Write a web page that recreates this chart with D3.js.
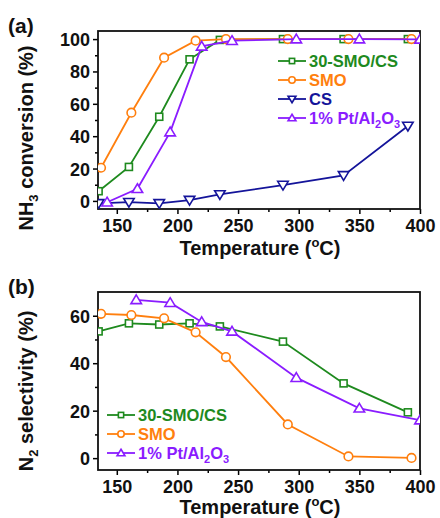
<!DOCTYPE html>
<html><head><meta charset="utf-8">
<script src="https://cdn.jsdelivr.net/npm/d3@7"></script>
<style>body{margin:0;background:#fff}svg{display:block}text{font-family:"Liberation Sans",Arial,sans-serif;font-weight:bold}</style>
</head><body>
<svg id="c" width="440" height="518"></svg>
<script>
// ---- data ----
const convSMOCS_T = [135,160,185,210,235,287,337,390];
const convSMOCS_V = [6,21,52,87.5,99.5,100,100,100];
const convSMO_T = [137,162,189,215,240,291,341,393];
const convSMO_V = [20.5,54.5,88.5,99,100,100,100,100];
const convCS_T = [135,160,185,210,235,287,337,390];
const convCS_V = [-1.5,-0.8,-1.5,0.5,4,9.8,15.8,46.3];
const convPt_T = [142,167,194,220,245,298,350,400];
const convPt_V = [-0.8,7.5,42.5,95.5,99,100,100,99.8];

const selSMOCS_T = [135,160,185,210,235,287,337,390];
const selSMOCS_V = [53.4,56.8,56.3,56.8,55.5,49.1,31.5,19.3];
const selSMO_T = [137,162,189,215,240,291,341,393];
const selSMO_V = [60.8,60.3,58.9,53,42.6,14.2,0.7,0.1];
const selPt_T = [166,194,220,245,298,350,400];
const selPt_V = [66.7,65.5,57.4,53.4,33.9,21,16];

const xTicks = [150,200,250,300,350,400];
const xMinor = [175,225,275,325,375];
const yTicksA = [0,20,40,60,80,100];
const yMinorA = [10,30,50,70,90];
const yTicksB = [0,20,40,60];
const yMinorB = [10,30,50];

const colors = {smocs:"#1e8a1e", smo:"#ff7f0e", cs:"#14149a", pt:"#8a1cff"};

const svg = d3.select("#c");
const L=98, R=420;

function richText(t, parts, subSize, shift){
  let pending = 0;
  parts.forEach(part=>{
    const ts = t.append("tspan").text(part.t);
    if(part.sub){ ts.attr("font-size",subSize).attr("dy",shift+pending); pending=-shift; }
    else if(part.sup){ ts.attr("font-size",subSize).attr("dy",-shift+pending); pending=shift; }
    else { if(pending) ts.attr("dy",pending); pending=0; }
  });
}

function panel(opt){
  const g = svg.append("g");
  const x = d3.scaleLinear().domain([134.5,400]).range([L,R]);
  const y = d3.scaleLinear().domain(opt.ydom).range([opt.bottom,opt.top]);
  const cid = "clip"+opt.id;
  svg.append("clipPath").attr("id",cid).append("rect")
    .attr("x",L).attr("y",opt.top).attr("width",R-L).attr("height",opt.bottom-opt.top);
  // axes
  const xa = g.append("g").attr("transform",`translate(0,${opt.bottom})`)
    .call(d3.axisBottom(x).tickValues(xTicks).tickSize(5).tickPadding(5).tickFormat(d3.format("d")));
  g.append("g").attr("transform",`translate(0,${opt.bottom})`)
    .call(d3.axisBottom(x).tickValues(xMinor).tickSize(3).tickFormat(""));
  const ya = g.append("g").attr("transform",`translate(${L},0)`)
    .call(d3.axisLeft(y).tickValues(opt.yt).tickSize(5).tickPadding(3));
  g.append("g").attr("transform",`translate(${L},0)`)
    .call(d3.axisLeft(y).tickValues(opt.ym).tickSize(3).tickFormat(""));
  g.selectAll(".domain").remove();
  g.selectAll(".tick line").attr("stroke","#000").attr("stroke-width",1.5);
  xa.selectAll("text").attr("font-size",18).attr("fill","#111");
  ya.selectAll("text").attr("font-size",18).attr("fill","#111").attr("dy","0.36em");
  g.append("rect").attr("x",L).attr("y",opt.top).attr("width",R-L).attr("height",opt.bottom-opt.top)
    .attr("fill","none").attr("stroke","#111").attr("stroke-width",1.8);
  // series
  const pg = g.append("g").attr("clip-path",`url(#${cid})`);
  opt.series.forEach(s=>{
    const pts = s.T.map((t,i)=>[x(t),y(s.V[i])]);
    pg.append("path").attr("d",d3.line()(pts)).attr("fill","none").attr("stroke",s.c).attr("stroke-width",1.8);
    pts.forEach(p=>drawMarker(pg,s.m,p[0],p[1],s.c,1));
  });
  // legend
  opt.legend.forEach((s,i)=>{
    const ly = opt.ly + i*opt.lstep;
    g.append("line").attr("x1",opt.lx).attr("x2",opt.lx+28).attr("y1",ly).attr("y2",ly).attr("stroke",s.c).attr("stroke-width",1.8);
    drawMarker(g,s.m,opt.lx+14,ly,s.c,0.75);
    const t = g.append("text").attr("x",opt.lx+31).attr("y",ly+6).attr("font-size",16.5).attr("fill",s.c);
    richText(t, s.label, 11, 4);
  });
  // titles
  const xt = g.append("text").attr("x",(L+R)/2+1).attr("y",opt.bottom+opt.xtOff).attr("text-anchor","middle").attr("font-size",20).attr("fill","#111");
  richText(xt, [{t:"Temperature ("},{t:"o",sup:true},{t:"C)"}], 13, 8);
  const yt = g.append("text").attr("transform",`translate(${opt.ytx},${opt.yty}) rotate(-90)`).attr("text-anchor","middle").attr("font-size",20).attr("fill","#111");
  richText(yt, opt.ytitle, 13, 5);
  g.append("text").attr("x",8).attr("y",opt.top+2).attr("font-size",21).attr("fill","#111").text(opt.tag);
}

function drawMarker(g,m,cx,cy,c,sc){
  let el;
  if(m==="sq"){ const s=7*sc; el=g.append("rect").attr("x",cx-s/2).attr("y",cy-s/2).attr("width",s).attr("height",s); }
  else if(m==="ci"){ el=g.append("circle").attr("cx",cx).attr("cy",cy).attr("r",4.3*sc); }
  else if(m==="tu"){ const s=5*sc; el=g.append("path").attr("d",`M${cx},${cy-s}L${cx+s*1.05},${cy+s*0.75}L${cx-s*1.05},${cy+s*0.75}Z`); }
  else { const s=5*sc; el=g.append("path").attr("d",`M${cx},${cy+s}L${cx+s*1.05},${cy-s*0.75}L${cx-s*1.05},${cy-s*0.75}Z`); }
  el.attr("fill","#fff").attr("stroke",c).attr("stroke-width",1.6);
}

const sA = [
  {T:convSMOCS_T,V:convSMOCS_V,c:colors.smocs,m:"sq",label:[{t:"30-SMO/CS"}]},
  {T:convSMO_T,V:convSMO_V,c:colors.smo,m:"ci",label:[{t:"SMO"}]},
  {T:convCS_T,V:convCS_V,c:colors.cs,m:"td",label:[{t:"CS"}]},
  {T:convPt_T,V:convPt_V,c:colors.pt,m:"tu",label:[{t:"1% Pt/Al"},{t:"2",sub:true},{t:"O"},{t:"3",sub:true}]}
];
const sB = [
  {T:selSMOCS_T,V:selSMOCS_V,c:colors.smocs,m:"sq",label:[{t:"30-SMO/CS"}]},
  {T:selSMO_T,V:selSMO_V,c:colors.smo,m:"ci",label:[{t:"SMO"}]},
  {T:selPt_T,V:selPt_V,c:colors.pt,m:"tu",label:[{t:"1% Pt/Al"},{t:"2",sub:true},{t:"O"},{t:"3",sub:true}]}
];

panel({id:"a",top:31,bottom:209,ydom:[-5,105],yt:yTicksA,ym:yMinorA,series:sA,legend:sA,xtOff:46,
  lx:278,ly:61,lstep:19,ytx:33,yty:138,ytitle:[{t:"NH"},{t:"3",sub:true},{t:" conversion (%)"}],tag:"(a)"});
panel({id:"b",top:292,bottom:470,ydom:[-5,70],yt:yTicksB,ym:yMinorB,series:sB,legend:sB,xtOff:44,
  lx:107,ly:415,lstep:19,ytx:33,yty:391,ytitle:[{t:"N"},{t:"2",sub:true},{t:" selectivity (%)"}],tag:"(b)"});
</script>
</body></html>
